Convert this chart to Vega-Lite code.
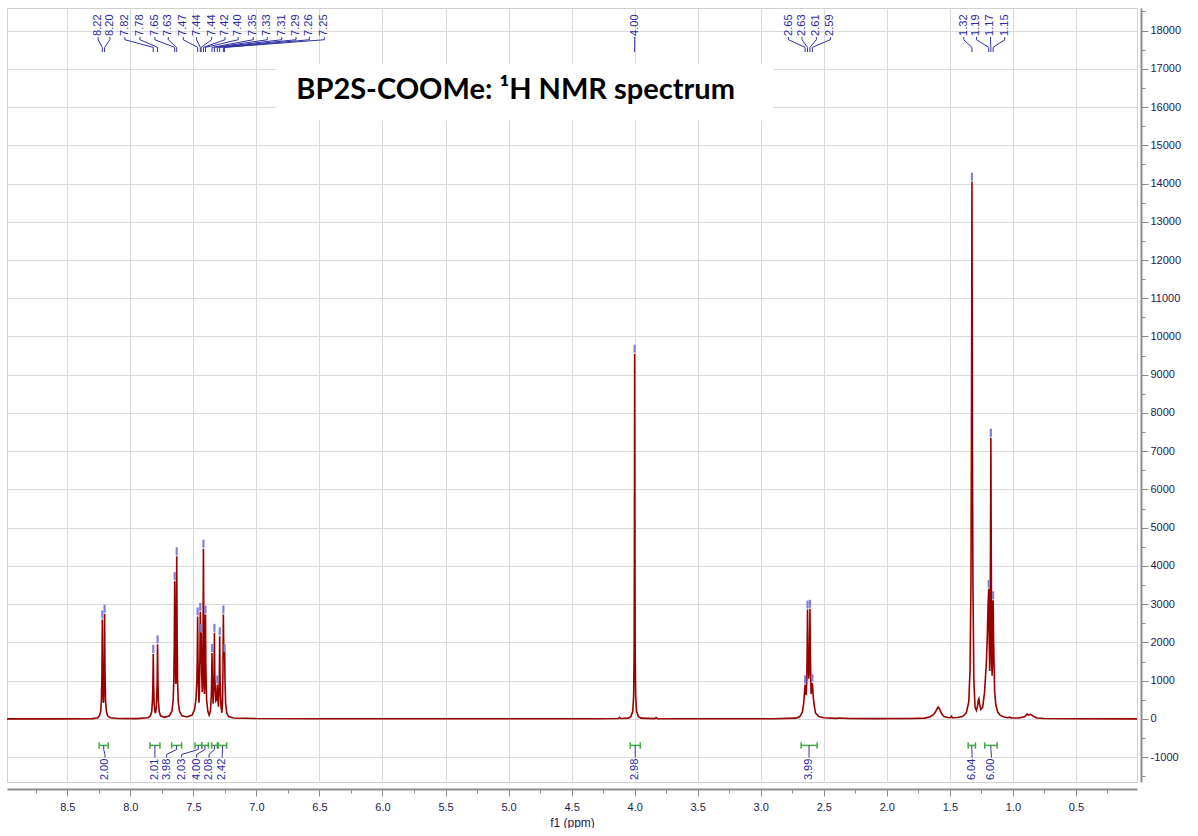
{
"$schema": "https://vega.github.io/schema/vega-lite/v6.json",
"width": 1130,
"height": 774,
"padding": {"left": 7, "top": 8, "right": 0, "bottom": 0},
"background": "white",
"config": {"view": {"stroke": "#d0d0d0", "strokeWidth": 1}},
"resolve": {"axis": {"x": "independent", "y": "independent"}},
"datasets": {
"spectrum": [
{"ppm":8.978,"int":0},{"ppm":8.6,"int":2},{"ppm":8.3,"int":8},{"ppm":8.26,"int":25},{"ppm":8.245,"int":80},{"ppm":8.235,"int":200},{"ppm":8.229,"int":500},{"ppm":8.225,"int":1200},{"ppm":8.222,"int":2600},{"ppm":8.219,"int":1200},{"ppm":8.215,"int":500},{"ppm":8.213,"int":420},{"ppm":8.211,"int":500},{"ppm":8.207,"int":1250},{"ppm":8.204,"int":2750},{"ppm":8.201,"int":1250},{"ppm":8.196,"int":450},{"ppm":8.19,"int":200},{"ppm":8.18,"int":80},{"ppm":8.16,"int":30},{"ppm":8.1,"int":10},{"ppm":7.95,"int":8},
{"ppm":7.86,"int":30},{"ppm":7.84,"int":80},{"ppm":7.83,"int":200},{"ppm":7.824,"int":500},{"ppm":7.821,"int":900},{"ppm":7.818,"int":1700},{"ppm":7.815,"int":900},{"ppm":7.811,"int":400},{"ppm":7.805,"int":200},{"ppm":7.8,"int":150},{"ppm":7.794,"int":300},{"ppm":7.79,"int":600},{"ppm":7.787,"int":1000},{"ppm":7.784,"int":1950},{"ppm":7.781,"int":1000},{"ppm":7.777,"int":450},{"ppm":7.77,"int":180},{"ppm":7.76,"int":80},{"ppm":7.73,"int":40},
{"ppm":7.69,"int":80},{"ppm":7.67,"int":200},{"ppm":7.66,"int":500},{"ppm":7.655,"int":1000},{"ppm":7.651,"int":2000},{"ppm":7.648,"int":3600},{"ppm":7.645,"int":2000},{"ppm":7.64,"int":950},{"ppm":7.638,"int":920},{"ppm":7.636,"int":1200},{"ppm":7.635,"int":2300},{"ppm":7.632,"int":4250},{"ppm":7.629,"int":2300},{"ppm":7.625,"int":950},{"ppm":7.62,"int":450},{"ppm":7.61,"int":200},{"ppm":7.59,"int":80},{"ppm":7.55,"int":50},
{"ppm":7.51,"int":100},{"ppm":7.49,"int":250},{"ppm":7.48,"int":500},{"ppm":7.472,"int":1000},{"ppm":7.469,"int":1600},{"ppm":7.466,"int":2680},{"ppm":7.463,"int":1500},{"ppm":7.458,"int":600},{"ppm":7.455,"int":420},{"ppm":7.452,"int":700},{"ppm":7.448,"int":1600},{"ppm":7.445,"int":2800},{"ppm":7.442,"int":1600},{"ppm":7.441,"int":1430},{"ppm":7.438,"int":2250},{"ppm":7.434,"int":1200},{"ppm":7.429,"int":700},{"ppm":7.425,"int":900},{"ppm":7.423,"int":2300},{"ppm":7.42,"int":4450},{"ppm":7.417,"int":2300},{"ppm":7.412,"int":650},{"ppm":7.409,"int":900},{"ppm":7.407,"int":1600},{"ppm":7.404,"int":2730},{"ppm":7.401,"int":1400},{"ppm":7.395,"int":500},{"ppm":7.385,"int":200},{"ppm":7.375,"int":100},{"ppm":7.365,"int":200},{"ppm":7.358,"int":600},{"ppm":7.355,"int":1000},{"ppm":7.352,"int":1720},{"ppm":7.349,"int":900},{"ppm":7.343,"int":400},{"ppm":7.339,"int":700},{"ppm":7.336,"int":1200},{"ppm":7.333,"int":2250},{"ppm":7.33,"int":1100},{"ppm":7.322,"int":470},{"ppm":7.316,"int":500},{"ppm":7.313,"int":650},{"ppm":7.31,"int":900},{"ppm":7.307,"int":600},{"ppm":7.301,"int":320},{"ppm":7.297,"int":600},{"ppm":7.294,"int":1100},{"ppm":7.291,"int":2160},{"ppm":7.288,"int":1000},{"ppm":7.28,"int":300},{"ppm":7.274,"int":160},{"ppm":7.268,"int":500},{"ppm":7.265,"int":1300},{"ppm":7.262,"int":2730},{"ppm":7.259,"int":1800},{"ppm":7.256,"int":1700},{"ppm":7.252,"int":1720},{"ppm":7.249,"int":1000},{"ppm":7.244,"int":400},{"ppm":7.235,"int":150},{"ppm":7.22,"int":60},{"ppm":7.18,"int":25},{"ppm":7.0,"int":10},{"ppm":6.5,"int":5},{"ppm":5.5,"int":3},
{"ppm":4.3,"int":5},{"ppm":4.13,"int":10},{"ppm":4.12,"int":40},{"ppm":4.11,"int":10},{"ppm":4.05,"int":20},{"ppm":4.03,"int":60},{"ppm":4.015,"int":200},{"ppm":4.008,"int":600},{"ppm":4.004,"int":1800},{"ppm":4.002,"int":4500},{"ppm":4.0,"int":9550},{"ppm":3.998,"int":4500},{"ppm":3.996,"int":1800},{"ppm":3.992,"int":600},{"ppm":3.985,"int":200},{"ppm":3.97,"int":60},{"ppm":3.95,"int":20},{"ppm":3.84,"int":8},{"ppm":3.83,"int":35},{"ppm":3.82,"int":8},{"ppm":3.5,"int":3},
{"ppm":2.9,"int":5},{"ppm":2.72,"int":20},{"ppm":2.69,"int":60},{"ppm":2.67,"int":180},{"ppm":2.66,"int":400},{"ppm":2.654,"int":650},{"ppm":2.651,"int":800},{"ppm":2.648,"int":900},{"ppm":2.645,"int":800},{"ppm":2.64,"int":620},{"ppm":2.635,"int":1000},{"ppm":2.632,"int":1800},{"ppm":2.629,"int":2860},{"ppm":2.626,"int":1900},{"ppm":2.62,"int":1050},{"ppm":2.616,"int":1200},{"ppm":2.613,"int":1900},{"ppm":2.61,"int":2880},{"ppm":2.607,"int":1800},{"ppm":2.601,"int":650},{"ppm":2.596,"int":800},{"ppm":2.593,"int":880},{"ppm":2.591,"int":940},{"ppm":2.588,"int":800},{"ppm":2.583,"int":550},{"ppm":2.575,"int":330},{"ppm":2.565,"int":150},{"ppm":2.54,"int":60},{"ppm":2.5,"int":30},{"ppm":2.4,"int":15},{"ppm":2.38,"int":25},{"ppm":2.3,"int":10},{"ppm":2.1,"int":8},
{"ppm":1.8,"int":10},{"ppm":1.7,"int":20},{"ppm":1.66,"int":50},{"ppm":1.63,"int":110},{"ppm":1.615,"int":180},{"ppm":1.603,"int":260},{"ppm":1.593,"int":310},{"ppm":1.585,"int":280},{"ppm":1.575,"int":200},{"ppm":1.56,"int":110},{"ppm":1.545,"int":60},{"ppm":1.52,"int":35},{"ppm":1.495,"int":30},{"ppm":1.487,"int":70},{"ppm":1.48,"int":30},{"ppm":1.44,"int":35},{"ppm":1.4,"int":60},{"ppm":1.37,"int":150},{"ppm":1.35,"int":450},{"ppm":1.34,"int":1300},{"ppm":1.333,"int":3500},{"ppm":1.329,"int":7000},{"ppm":1.325,"int":14050},{"ppm":1.321,"int":7000},{"ppm":1.317,"int":3500},{"ppm":1.31,"int":1000},{"ppm":1.3,"int":300},{"ppm":1.29,"int":220},{"ppm":1.28,"int":350},{"ppm":1.274,"int":500},{"ppm":1.27,"int":530},{"ppm":1.265,"int":400},{"ppm":1.255,"int":250},{"ppm":1.24,"int":300},{"ppm":1.225,"int":700},{"ppm":1.21,"int":1500},{"ppm":1.203,"int":2200},{"ppm":1.197,"int":3000},{"ppm":1.192,"int":3400},{"ppm":1.188,"int":2000},{"ppm":1.184,"int":1250},{"ppm":1.181,"int":1700},{"ppm":1.178,"int":4500},{"ppm":1.175,"int":7350},{"ppm":1.172,"int":4500},{"ppm":1.168,"int":1400},{"ppm":1.165,"int":1130},{"ppm":1.161,"int":1700},{"ppm":1.157,"int":3100},{"ppm":1.153,"int":2000},{"ppm":1.145,"int":700},{"ppm":1.135,"int":350},{"ppm":1.12,"int":180},{"ppm":1.1,"int":90},{"ppm":1.07,"int":50},{"ppm":1.04,"int":30},{"ppm":1.025,"int":45},{"ppm":1.015,"int":25},{"ppm":0.95,"int":25},{"ppm":0.905,"int":60},{"ppm":0.893,"int":110},{"ppm":0.886,"int":130},{"ppm":0.878,"int":100},{"ppm":0.87,"int":110},{"ppm":0.86,"int":120},{"ppm":0.85,"int":100},{"ppm":0.835,"int":60},{"ppm":0.81,"int":25},{"ppm":0.75,"int":10},{"ppm":0.5,"int":3},{"ppm":0.016,"int":0}
],
"peaks": [
{"ppm":8.222,"top":2600,"lab":"8.22","labppm":8.255},
{"ppm":8.204,"top":2750,"lab":"8.20","labppm":8.162},
{"ppm":7.818,"top":1700,"lab":"7.82","labppm":8.043},
{"ppm":7.784,"top":1950,"lab":"7.78","labppm":7.924},
{"ppm":7.648,"top":3600,"lab":"7.65","labppm":7.805},
{"ppm":7.632,"top":4250,"lab":"7.63","labppm":7.699},
{"ppm":7.466,"top":2680,"lab":"7.47","labppm":7.58},
{"ppm":7.445,"top":2800,"lab":"7.44","labppm":7.474},
{"ppm":7.438,"top":2250,"lab":"7.44","labppm":7.355},
{"ppm":7.42,"top":4450,"lab":"7.42","labppm":7.249},
{"ppm":7.404,"top":2730,"lab":"7.40","labppm":7.144},
{"ppm":7.352,"top":1720,"lab":"7.35","labppm":7.025},
{"ppm":7.333,"top":2250,"lab":"7.33","labppm":6.913},
{"ppm":7.31,"top":900,"lab":"7.31","labppm":6.799},
{"ppm":7.291,"top":2160,"lab":"7.29","labppm":6.686},
{"ppm":7.262,"top":2730,"lab":"7.26","labppm":6.58},
{"ppm":7.252,"top":1720,"lab":"7.25","labppm":6.461},
{"ppm":4.0,"top":9550,"lab":"4.00","labppm":4.0},
{"ppm":2.648,"top":900,"lab":"2.65","labppm":2.779},
{"ppm":2.629,"top":2860,"lab":"2.63","labppm":2.673},
{"ppm":2.61,"top":2880,"lab":"2.61","labppm":2.559},
{"ppm":2.591,"top":940,"lab":"2.59","labppm":2.448},
{"ppm":1.325,"top":14050,"lab":"1.32","labppm":1.39},
{"ppm":1.192,"top":3400,"lab":"1.19","labppm":1.289},
{"ppm":1.175,"top":7350,"lab":"1.17","labppm":1.178},
{"ppm":1.157,"top":3100,"lab":"1.15","labppm":1.065}
],
"integrals": [
{"from":8.247,"to":8.175,"center":8.211,"labppm":8.201,"val":"2.00"},
{"from":7.844,"to":7.765,"center":7.805,"labppm":7.805,"val":"2.01"},
{"from":7.672,"to":7.593,"center":7.633,"labppm":7.712,"val":"3.98"},
{"from":7.487,"to":7.434,"center":7.461,"labppm":7.593,"val":"2.03"},
{"from":7.434,"to":7.381,"center":7.408,"labppm":7.474,"val":"4.00"},
{"from":7.355,"to":7.31,"center":7.333,"labppm":7.376,"val":"2.08"},
{"from":7.302,"to":7.236,"center":7.269,"labppm":7.271,"val":"2.42"},
{"from":4.035,"to":3.956,"center":3.996,"labppm":3.995,"val":"2.98"},
{"from":2.68,"to":2.553,"center":2.617,"labppm":2.617,"val":"3.99"},
{"from":1.355,"to":1.297,"center":1.326,"labppm":1.324,"val":"6.04"},
{"from":1.224,"to":1.125,"center":1.175,"labppm":1.171,"val":"6.00"}
]
},
"layer": [
{
"data": {"name": "spectrum"},
"mark": {"type": "line", "color": "#990000", "strokeWidth": 1.6, "clip": true},
"encoding": {
"x": {"field": "ppm", "type": "quantitative",
"scale": {"domain": [8.978, 0.016], "nice": false, "zero": false},
"axis": {"title": "f1 (ppm)", "orient": "bottom", "offset": 7,
"values": [0.5,1,1.5,2,2.5,3,3.5,4,4.5,5,5.5,6,6.5,7,7.5,8,8.5],
"format": ".1f",
"labelOverlap": false, "labelFlush": false,
"tickSize": 7,
"grid": true,
"gridColor": "#dadada", "gridWidth": 1,
"domainColor": "#8c8c8c", "domainWidth": 2, "tickColor": "#8c8c8c", "tickWidth": 1,
"labelFont": "Liberation Sans", "labelFontSize": 11, "labelColor": "#1c1c50", "labelPadding": 5,
"titleFont": "Liberation Sans", "titleFontSize": 12, "titleFontWeight": "normal", "titleColor": "#1c1c50", "titlePadding": 5}},
"y": {"field": "int", "type": "quantitative",
"scale": {"domain": [-1650, 18590], "nice": false, "zero": false},
"axis": {"title": null, "orient": "right", "offset": 4,
"values": [-1000,0,1000,2000,3000,4000,5000,6000,7000,8000,9000,10000,11000,12000,13000,14000,15000,16000,17000,18000],
"labelExpr": "''+datum.value",
"labelOverlap": false, "labelFlush": false,
"tickSize": 7,
"grid": true,
"gridColor": "#dadada", "gridWidth": 1,
"domainColor": "#8c8c8c", "domainWidth": 2, "tickColor": "#8c8c8c", "tickWidth": 1,
"labelFont": "Liberation Sans", "labelFontSize": 11, "labelColor": "#1c1c50", "labelPadding": 2}}
}
},
{
"data": {"values": [{}]},
"mark": {"type": "rect", "color": "white"},
"encoding": {
"x": {"datum": 6.84, "type": "quantitative",
"axis": {"title": null, "orient": "bottom", "offset": 7, "values": [0.25,0.75,1.25,1.75,2.25,2.75,3.25,3.75,4.25,4.75,5.25,5.75,6.25,6.75,7.25,7.75,8.25,8.75], "labels": false, "domain": false, "grid": false, "tickSize": 4, "tickColor": "#8c8c8c", "tickWidth": 1}},
"x2": {"datum": 2.9},
"y": {"datum": 17110, "type": "quantitative",
"axis": {"title": null, "orient": "right", "offset": 4, "values": [-1500,-500,500,1500,2500,3500,4500,5500,6500,7500,8500,9500,10500,11500,12500,13500,14500,15500,16500,17500,18500], "labels": false, "domain": false, "grid": false, "tickSize": 4, "tickColor": "#8c8c8c", "tickWidth": 1}},
"y2": {"datum": 15650}
}
},
{
"data": {"name": "peaks"},
"mark": {"type": "rule", "color": "#8080d8", "strokeWidth": 2.2, "yOffset": -1, "y2Offset": -9},
"encoding": {"x": {"field": "ppm", "type": "quantitative", "axis": null}, "y": {"field": "top", "type": "quantitative", "axis": null}, "y2": {"field": "top"}}
},
{
"data": {"name": "peaks"},
"mark": {"type": "rule", "color": "#3030a0", "strokeWidth": 1},
"encoding": {"x": {"field": "labppm", "type": "quantitative", "axis": null}, "y": {"datum": 17830, "type": "quantitative", "axis": null}, "y2": {"datum": 17760}}
},
{
"data": {"name": "peaks"},
"mark": {"type": "rule", "color": "#3030a0", "strokeWidth": 1},
"encoding": {"x": {"field": "labppm", "type": "quantitative", "axis": null}, "x2": {"field": "ppm"}, "y": {"datum": 17760, "type": "quantitative", "axis": null}, "y2": {"datum": 17560}}
},
{
"data": {"name": "peaks"},
"mark": {"type": "rule", "color": "#3030a0", "strokeWidth": 1},
"encoding": {"x": {"field": "ppm", "type": "quantitative", "axis": null}, "y": {"datum": 17560, "type": "quantitative", "axis": null}, "y2": {"datum": 17440}}
},
{
"data": {"name": "peaks"},
"mark": {"type": "text", "angle": 270, "align": "left", "baseline": "middle", "font": "Liberation Sans", "fontSize": 11, "color": "#2a2aa0"},
"encoding": {"x": {"field": "labppm", "type": "quantitative", "axis": null}, "y": {"datum": 17860, "type": "quantitative", "axis": null}, "text": {"field": "lab"}}
},
{
"data": {"name": "integrals"},
"mark": {"type": "rule", "color": "#44aa44", "strokeWidth": 1.5},
"encoding": {"x": {"field": "from", "type": "quantitative", "axis": null}, "x2": {"field": "to"}, "y": {"datum": -693, "type": "quantitative", "axis": null}}
},
{
"data": {"name": "integrals"},
"mark": {"type": "rule", "color": "#44aa44", "strokeWidth": 1.5},
"encoding": {"x": {"field": "from", "type": "quantitative", "axis": null}, "y": {"datum": -610, "type": "quantitative", "axis": null}, "y2": {"datum": -780}}
},
{
"data": {"name": "integrals"},
"mark": {"type": "rule", "color": "#44aa44", "strokeWidth": 1.5},
"encoding": {"x": {"field": "to", "type": "quantitative", "axis": null}, "y": {"datum": -610, "type": "quantitative", "axis": null}, "y2": {"datum": -780}}
},
{
"data": {"name": "integrals"},
"mark": {"type": "rule", "color": "#3030a0", "strokeWidth": 1},
"encoding": {"x": {"field": "center", "type": "quantitative", "axis": null}, "y": {"datum": -700, "type": "quantitative", "axis": null}, "y2": {"datum": -800}}
},
{
"data": {"name": "integrals"},
"mark": {"type": "rule", "color": "#3030a0", "strokeWidth": 1},
"encoding": {"x": {"field": "center", "type": "quantitative", "axis": null}, "x2": {"field": "labppm"}, "y": {"datum": -800, "type": "quantitative", "axis": null}, "y2": {"datum": -930}}
},
{
"data": {"name": "integrals"},
"mark": {"type": "rule", "color": "#3030a0", "strokeWidth": 1},
"encoding": {"x": {"field": "labppm", "type": "quantitative", "axis": null}, "y": {"datum": -930, "type": "quantitative", "axis": null}, "y2": {"datum": -1010}}
},
{
"data": {"name": "integrals"},
"mark": {"type": "text", "angle": 270, "align": "right", "baseline": "middle", "font": "Liberation Sans", "fontSize": 11, "color": "#2a2aa0"},
"encoding": {"x": {"field": "labppm", "type": "quantitative", "axis": null}, "y": {"datum": -1040, "type": "quantitative", "axis": null}, "text": {"field": "val"}}
},
{
"data": {"values": [{}]},
"mark": {"type": "text", "text": "BP2S-COOMe: ¹H NMR spectrum", "font": "Lato", "fontSize": 29, "fontWeight": "bold", "color": "black", "align": "center", "baseline": "alphabetic"},
"encoding": {"x": {"datum": 4.944, "type": "quantitative", "axis": null}, "y": {"datum": 16213, "type": "quantitative", "axis": null}}
}
]
}
